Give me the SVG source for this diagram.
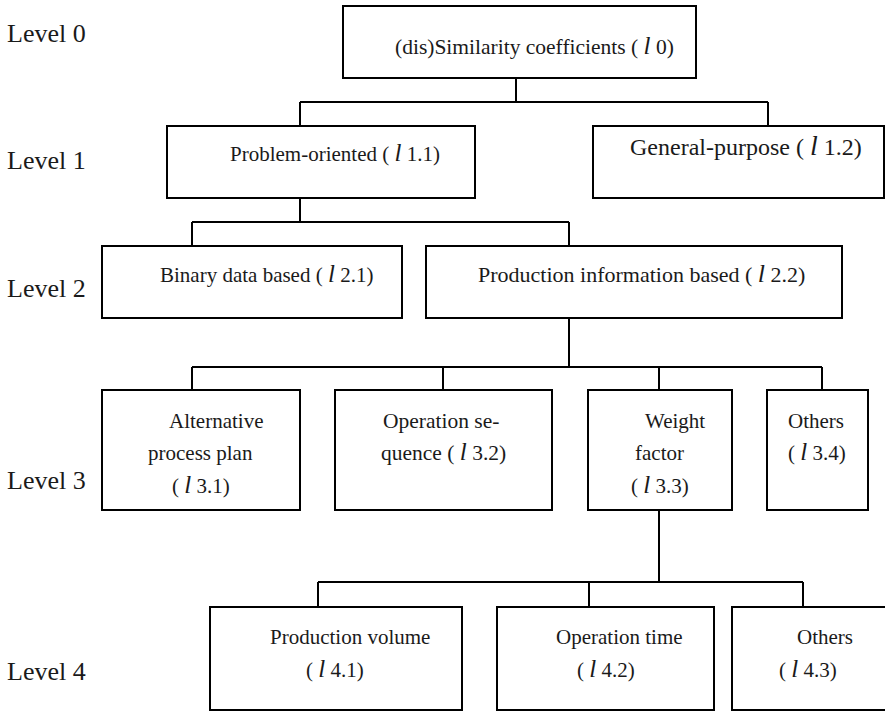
<svg xmlns="http://www.w3.org/2000/svg" width="885" height="711" viewBox="0 0 885 711">
  <style>
    .box { fill: #ffffff; stroke: #000000; stroke-width: 2; }
    .wire { fill: none; stroke: #000000; stroke-width: 2; }
    text { font-family: 'Liberation Serif', 'Times New Roman', serif; fill: #1a1a1a; }
    .lvl { font-size: 26px; }
    .lbl { font-size: 21px; }
    .sym { font-style: italic; font-size: 25px; }
  </style>
  <rect x="0" y="0" width="885" height="711" fill="#ffffff"/>

  <!-- level captions -->
  <g id="levels">
    <text class="lvl" x="7" y="42">Level 0</text>
    <text class="lvl" x="7" y="169">Level 1</text>
    <text class="lvl" x="7" y="297">Level 2</text>
    <text class="lvl" x="7" y="489">Level 3</text>
    <text class="lvl" x="7" y="680">Level 4</text>
  </g>

  <!-- tree connectors -->
  <g id="connectors">
    <path class="wire" d="M516 78V102M300 102H768M300 102V126M768 102V126"/>
    <path class="wire" d="M300 198V222M192 222H569M192 222V246M569 222V246"/>
    <path class="wire" d="M569 318V367M192 367H822M192 367V390M443 367V390M659 367V390M822 367V390"/>
    <path class="wire" d="M659 510V582M318 582H803M318 582V607M589 582V607M803 582V607"/>
  </g>

  <g id="l0">
    <rect class="box" x="343" y="6" width="353" height="72"/>
    <text class="lbl" x="395" y="54" style="font-size:21.5px">(dis)Similarity coefficients ( <tspan class="sym">l</tspan> 0)</text>
  </g>

  <g id="l1-1">
    <rect class="box" x="167" y="126" width="308" height="72"/>
    <text class="lbl" x="230" y="161">Problem-oriented ( <tspan class="sym">l</tspan> 1.1)</text>
  </g>

  <g id="l1-2">
    <rect class="box" x="593" y="126" width="291" height="72"/>
    <text class="lbl" x="630" y="155" style="font-size:24px">General-purpose ( <tspan class="sym" style="font-size:28px">l</tspan> 1.2)</text>
  </g>

  <g id="l2-1">
    <rect class="box" x="102" y="246" width="300" height="72"/>
    <text class="lbl" x="160" y="282">Binary data based ( <tspan class="sym">l</tspan> 2.1)</text>
  </g>

  <g id="l2-2">
    <rect class="box" x="426" y="246" width="416" height="72"/>
    <text class="lbl" x="478" y="282" style="font-size:22px">Production information based ( <tspan class="sym" style="font-size:26px">l</tspan> 2.2)</text>
  </g>

  <g id="l3-1">
    <rect class="box" x="102" y="390" width="198" height="120"/>
    <text class="lbl" x="169" y="428">Alternative</text>
    <text class="lbl" x="148" y="460">process plan</text>
    <text class="lbl" x="172" y="493">( <tspan class="sym">l</tspan> 3.1)</text>
  </g>

  <g id="l3-2">
    <rect class="box" x="335" y="390" width="217" height="120"/>
    <text class="lbl" x="383" y="428" style="font-size:21.5px">Operation se-</text>
    <text class="lbl" x="381" y="460" style="font-size:21.5px">quence ( <tspan class="sym">l</tspan> 3.2)</text>
  </g>

  <g id="l3-3">
    <rect class="box" x="588" y="390" width="144" height="120"/>
    <text class="lbl" x="645" y="428">Weight</text>
    <text class="lbl" x="635" y="460">factor</text>
    <text class="lbl" x="631" y="493">( <tspan class="sym">l</tspan> 3.3)</text>
  </g>

  <g id="l3-4">
    <rect class="box" x="767" y="390" width="101" height="120"/>
    <text class="lbl" x="788" y="428">Others</text>
    <text class="lbl" x="788" y="460">( <tspan class="sym">l</tspan> 3.4)</text>
  </g>

  <g id="l4-1">
    <rect class="box" x="210" y="607" width="252" height="103"/>
    <text class="lbl" x="270" y="644">Production volume</text>
    <text class="lbl" x="306" y="677">( <tspan class="sym">l</tspan> 4.1)</text>
  </g>

  <g id="l4-2">
    <rect class="box" x="497" y="607" width="217" height="103"/>
    <text class="lbl" x="556" y="644">Operation time</text>
    <text class="lbl" x="577" y="677">( <tspan class="sym">l</tspan> 4.2)</text>
  </g>

  <g id="l4-3">
    <rect class="box" x="732" y="607" width="160" height="103"/>
    <text class="lbl" x="797" y="644">Others</text>
    <text class="lbl" x="779" y="677">( <tspan class="sym">l</tspan> 4.3)</text>
  </g>
</svg>
